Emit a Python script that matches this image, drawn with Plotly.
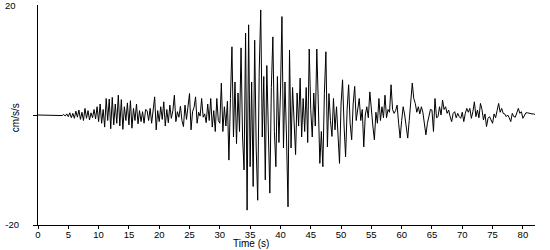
import plotly.graph_objects as go

# Sampling grid (seconds) and acceleration values (cm/s/s)
dt = 0.25
accel = [
    0, 0, 0, 0,
    0, 0, -0.1, -0.1,
    -0.1, -0.1, -0.1, -0.1,
    -0.1, -0.1, -0.1, -0.1,
    -0.1, 0.1, -0.2, 0.2,
    -0.3, 0.4, -0.5, 0.3,
    -0.6, 0.7, -0.4, 0.9,
    -0.8, 0.5, -1.0, 1.2,
    -0.6, 0.8, -0.9, 0.4,
    -0.5, 1.0, -0.7, 1.5,
    -1.2, 2.0, -1.5, 1.0,
    -2.2, 3.0, -1.0, 2.9,
    -2.5, 3.2, -1.8, 2.0,
    -1.5, 3.6, -2.0, 2.8,
    -2.6, 1.5, -1.0, 2.2,
    -1.8, 2.6, -2.4, 1.2,
    -1.0, 2.0, -1.6, 0.8,
    -1.2, 0.6, -1.5, 1.0,
    0.8, -1.0, 1.2, -1.5,
    1.0, 3.3, -2.7, 0.8,
    -1.2, 1.5, -0.8, 2.4,
    -2.0, 1.0, -1.4, 1.8,
    -0.6, 0.8, 3.6, -1.2,
    0.6, -0.4, 1.6, -1.0,
    -2.1, 1.8, -0.8, 1.2,
    3.9, -2.7, 0.6, 1.4,
    3.3, -1.5, 0.5, -0.2,
    3.0, -0.4, 0.2, -1.4,
    2.0, -1.0, 3.0, -2.2,
    0.8, -3.0, 3.0, -1.0,
    -1.5, 5.8, -3.0, 1.5,
    -2.0, 2.5, -8.2, 3.0,
    12.4, -4.0, 6.0, -5.2,
    4.0, -3.0, 12.2, -4.0,
    -10.0, 14.9, -17.3, 16.4,
    -9.4, 6.0, -13.0, 13.6,
    -6.0, -15.5, 8.0, 19.1,
    -4.0, 7.0, -11.8, 9.0,
    -6.0, -14.2, 5.0, 14.2,
    -3.0, -9.4, 7.0, -5.0,
    4.0, 17.9, -6.0, 6.0,
    -4.0, -16.7, 11.8, -6.0,
    5.0, -3.0, -7.2, 4.0,
    -2.0, 6.7, -4.0, 3.0,
    -3.0, 5.0, -5.0, 12.0,
    1.0, -4.0, 4.0, -2.0,
    12.0, 2.0, -8.8, -3.0,
    -9.4, 3.9, 11.5, -5.8,
    3.9, -1.0, -3.9, 3.0,
    -2.7, 1.5, -3.0, -8.8,
    2.0, 6.4, -2.0, -7.6,
    1.0, 5.5, -1.5, -4.5,
    2.0, 5.2, -1.0, 1.5,
    3.0, -1.0, 1.0, -5.8,
    0.0, 1.5, -0.5, 4.2,
    0.5, -2.0, -4.5, 0.5,
    -1.5, 3.0, -1.0, 1.5,
    -0.5, 3.6, -0.5, 1.0,
    0.5, 5.5, 1.0, 0.3,
    0.8, 1.8, -1.5, -4.2,
    -1.0, 1.5, 0.0, -2.0,
    -4.2, -1.0, 2.5, 5.8,
    3.0, 2.1, 0.5, 1.5,
    0.2, 1.5, 0.5, -2.0,
    -3.6, -1.5, 0.0, 1.0,
    0.9, -3.0, 3.0, -0.5,
    -0.3, 1.5, 0.0, 2.7,
    1.0, 1.5, 0.3, 0.9,
    -0.3, -1.2, 0.3, 0.6,
    -0.5, 0.3, -0.3, -0.6,
    0.5, -1.2, 0.3, 1.2,
    0.5, 1.2, -0.6, 0.6,
    2.4, -0.3, 0.9, -0.5,
    2.1, 1.0, -0.9, 0.2,
    -2.1, -0.6, -0.3, -1.0,
    -1.5, 0.2, -0.5, 0.8,
    2.1, 0.5, 1.2, 0.3,
    0.2, -0.3, 0.0, -0.5,
    -1.2, 0.3, -0.3, -0.4,
    0.5, 1.2, 0.3, 0.6,
    -0.6, -0.2, 0.4, 0.4,
    0.3, 0.3, 0.2, 0.2,
    0.1,
]
time = [i * dt for i in range(len(accel))]

x_ticks = [0, 5, 10, 15, 20, 25, 30, 35, 40, 45, 50, 55, 60, 65, 70, 75, 80]
y_ticks = [-20, 0]
y_tick_text = ["-20", ""]
y_top_label = "20"

font = dict(family="Liberation Sans, Arial, sans-serif", size=10, color="#000000")
tick_font = dict(family="Liberation Sans, Arial, sans-serif", size=9.5, color="#000000")

fig = go.Figure()
fig.add_trace(go.Scatter(x=time, y=accel, mode="lines",
                         line=dict(color="black", width=1), hoverinfo="skip"))

fig.update_layout(
    width=550, height=250,
    margin=dict(l=35, r=15, t=5, b=25),
    paper_bgcolor="white", plot_bgcolor="white",
    showlegend=False, font=font,
    xaxis=dict(range=[0, 82], tickvals=x_ticks, ticks="outside", ticklen=3,
               tickcolor="black", showline=True, linecolor="black", linewidth=1,
               showgrid=False, zeroline=False, tickfont=tick_font,
               ticklabelstandoff=-2),
    yaxis=dict(range=[-20, 20], tickvals=y_ticks, ticktext=y_tick_text,
               ticks="outside", ticklen=4, tickcolor="black", showline=True,
               linecolor="black", linewidth=1, showgrid=False, zeroline=False,
               tickfont=tick_font, ticklabelstandoff=12),
    annotations=[
        dict(text=y_top_label, xref="paper", yref="paper", x=-20 / 500, y=1,
             xanchor="right", yanchor="middle", showarrow=False, font=tick_font),
        dict(text="Time (s)", xref="paper", yref="paper", x=(249 - 35) / 500,
             y=-25 / 220, xanchor="center", yanchor="bottom", showarrow=False,
             font=font, borderpad=0),
        dict(text="cm/s/s", xref="paper", yref="paper", x=-23 / 500,
             y=(225 - 118) / 220, xanchor="center", yanchor="middle",
             textangle=-90, showarrow=False, font=font),
    ],
)

fig.write_html("out.html")
